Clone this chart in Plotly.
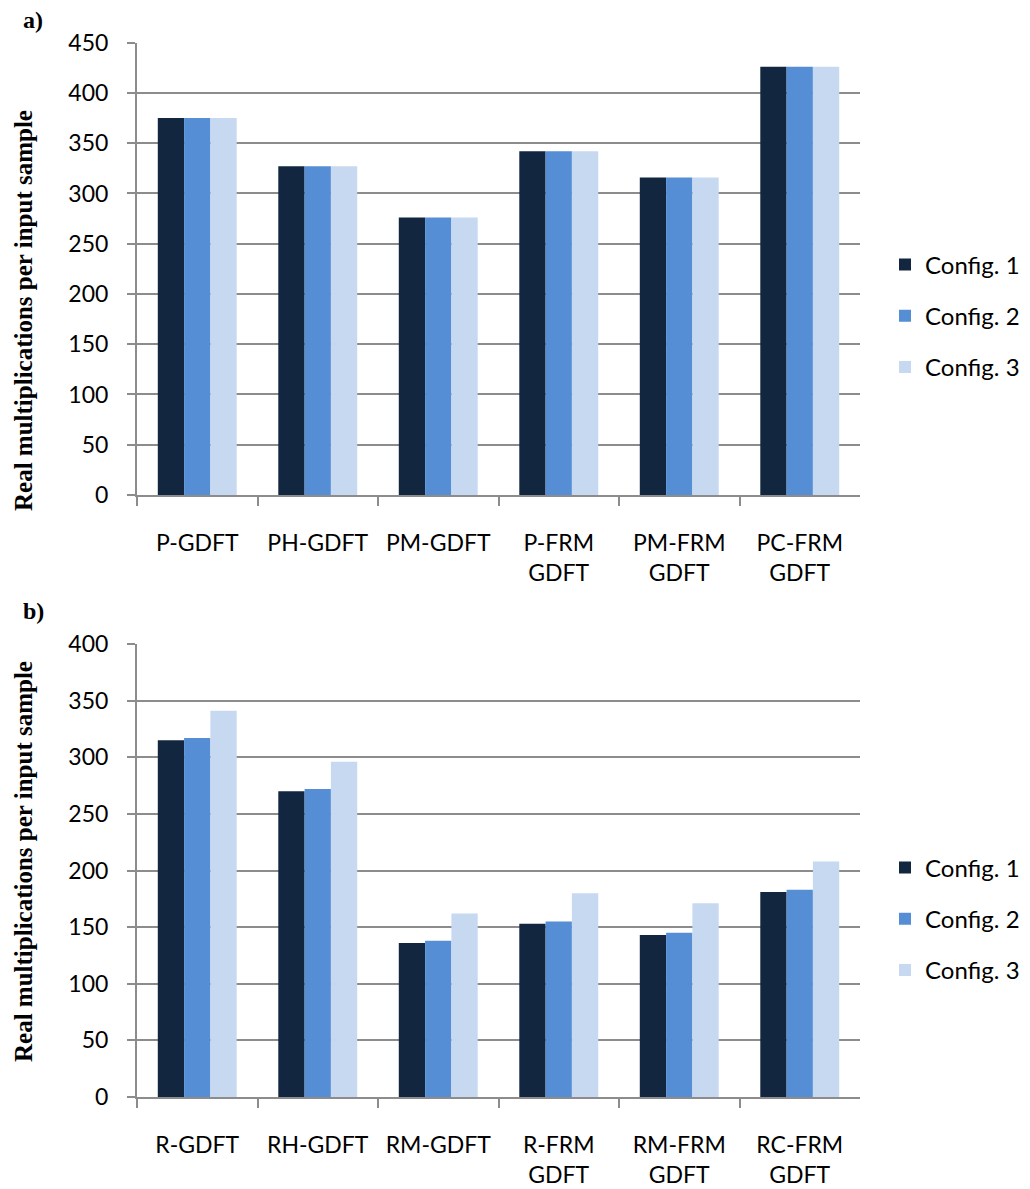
import plotly.graph_objects as go

# Real multiplications per input sample, two filter-bank families
cats_a = ["P-GDFT", "PH-GDFT", "PM-GDFT", "P-FRM<br>GDFT", "PM-FRM<br>GDFT", "PC-FRM<br>GDFT"]
cats_b = ["R-GDFT", "RH-GDFT", "RM-GDFT", "R-FRM<br>GDFT", "RM-FRM<br>GDFT", "RC-FRM<br>GDFT"]

series_names = ["Config. 1", "Config. 2", "Config. 3"]

a_config1 = [375, 327, 276, 342, 316, 426]
a_config2 = [375, 327, 276, 342, 316, 426]
a_config3 = [375, 327, 276, 342, 316, 426]

b_config1 = [315, 270, 136, 153, 143, 181]
b_config2 = [317, 272, 138, 155, 145, 183]
b_config3 = [341, 296, 162, 180, 171, 208]

colors = ["#132640", "#558ED5", "#C6D9F1"]

W, H = 1030, 1189
SANS = "Lato, Calibri, 'Open Sans', sans-serif"
SERIF = "'Liberation Serif', 'Times New Roman', serif"
GRID = "#8C8C8C"

fig = go.Figure()

for name, vals, col in zip(series_names, [a_config1, a_config2, a_config3], colors):
    fig.add_trace(go.Bar(x=cats_a, y=vals, name=name, marker=dict(color=col, line=dict(width=0)),
                         xaxis="x", yaxis="y", legend="legend", legendgroup="a" + name))
for name, vals, col in zip(series_names, [b_config1, b_config2, b_config3], colors):
    fig.add_trace(go.Bar(x=cats_b, y=vals, name=name, marker=dict(color=col, line=dict(width=0)),
                         xaxis="x2", yaxis="y2", legend="legend2", legendgroup="b" + name))


def px_to_y(p):
    return 1 - p / H


xdom = [137 / W, 860 / W]
top_dom = [px_to_y(495), px_to_y(42.7)]
bot_dom = [px_to_y(1097), px_to_y(644)]

xaxis_common = dict(
    domain=xdom, type="category", showgrid=False, showline=True, linecolor=GRID, linewidth=2,
    ticks="outside", tickson="boundaries", ticklen=9, tickwidth=2, tickcolor=GRID,
    tickfont=dict(family=SANS, size=23, color="#000"), ticklabelstandoff=26,
    fixedrange=True, automargin=False,
)
yaxis_common = dict(
    showgrid=True, gridcolor=GRID, gridwidth=2, showline=True, linecolor=GRID, linewidth=2,
    ticks="outside", ticklen=8, tickwidth=2, tickcolor=GRID, dtick=50, zeroline=False,
    tickfont=dict(family=SANS, size=23, color="#000"), ticklabelstandoff=14,
    automargin=False,
)

legend_common = dict(
    font=dict(family=SANS, size=24, color="#000"), bgcolor="rgba(0,0,0,0)",
    tracegroupgap=17, xanchor="left", yanchor="middle", itemwidth=30,
)

fig.update_layout(
    width=W, height=H, margin=dict(l=0, r=0, t=0, b=0, autoexpand=False),
    paper_bgcolor="white", plot_bgcolor="white",
    barmode="group", bargap=0.345, bargroupgap=0,
    xaxis=dict(xaxis_common, anchor="y"),
    yaxis=dict(yaxis_common, domain=top_dom, range=[0, 450], anchor="x"),
    xaxis2=dict(xaxis_common, anchor="y2"),
    yaxis2=dict(yaxis_common, domain=bot_dom, range=[0, 400], anchor="x2"),
    legend=dict(legend_common, x=885 / W, y=px_to_y(316)),
    legend2=dict(legend_common, x=885 / W, y=px_to_y(919)),
    showlegend=True,
    annotations=[
        dict(text="<b>a)</b>", x=21 / W, y=px_to_y(20), xref="paper", yref="paper",
             xanchor="left", yanchor="middle", showarrow=False,
             font=dict(family=SERIF, size=24, color="#000")),
        dict(text="<b>b)</b>", x=21 / W, y=px_to_y(611), xref="paper", yref="paper",
             xanchor="left", yanchor="middle", showarrow=False,
             font=dict(family=SERIF, size=24, color="#000")),
        dict(text="<b>Real multiplications per input sample</b>", x=23 / W, y=px_to_y(311),
             xref="paper", yref="paper", textangle=-90, xanchor="center", yanchor="middle",
             showarrow=False, font=dict(family=SERIF, size=25, color="#000")),
        dict(text="<b>Real multiplications per input sample</b>", x=23 / W, y=px_to_y(862),
             xref="paper", yref="paper", textangle=-90, xanchor="center", yanchor="middle",
             showarrow=False, font=dict(family=SERIF, size=25, color="#000")),
    ],
)

fig.write_html("out.html")
